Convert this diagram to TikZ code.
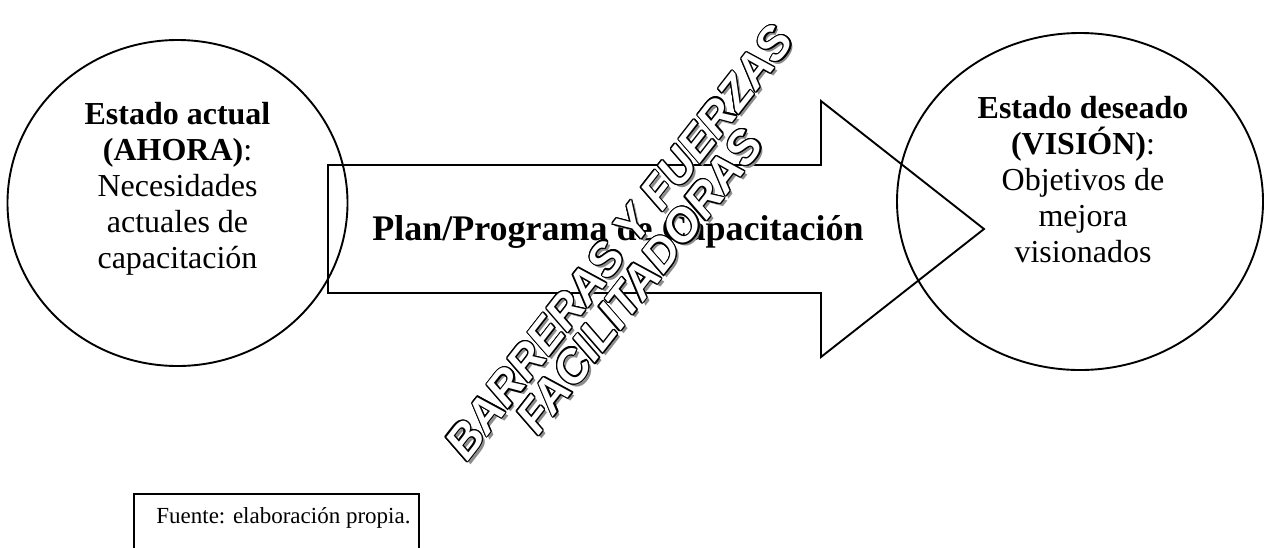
\documentclass[tikz,border=0pt]{standalone}
\usepackage{fontspec}
\setmainfont{Liberation Serif}
\newfontfamily\wafont{Liberation Sans}
\usetikzlibrary{calc,shapes.geometric}
\tikzset{
  stateshape/.style={ellipse, draw, inner sep=0pt},
  statetext/.style={align=center, anchor=base, inner sep=0pt, font=\fontsize{32}{36}\selectfont},
  planlabel/.style={anchor=base, inner sep=0pt, font=\fontsize{36}{40}\selectfont\bfseries},
  wa/.style={inner sep=0pt, rotate=52, font=\wafont\fontsize{46}{50}\selectfont\bfseries\itshape},
  sourcebox/.style={draw, anchor=north west, inner xsep=0pt, inner ysep=0pt, minimum width=285pt,
    text height=30pt, text depth=40pt, font=\fontsize{23}{26}\selectfont}
}
\newcommand\wordartline[3]{%
  \node[wa, text=black!45] at ($(#2)+(3,3)$) {#3};
  \foreach \ang in {0,22.5,...,337.5} {\node[wa, text=black] at ($(#2)+(\ang:1.2)$) {#3};}
  \node[wa, text=white] (#1) at (#2) {#3};
}
\begin{document}
\begin{tikzpicture}[x=1pt,y=-1pt, line width=1.9pt]
\useasboundingbox[fill=white] (0,0) rectangle (1265,547);
% arrow
\coordinate (a1) at (328,165);
\coordinate (a2) at (821,165);
\coordinate (a3) at (821,101);
\coordinate (tip) at (984,229);
\coordinate (a5) at (821,357);
\coordinate (a6) at (821,293);
\coordinate (a7) at (328,293);
\draw (a1) -- (a2) -- (a3) -- (tip) -- (a5) -- (a6) -- (a7) -- cycle;
% circles
\node (ahora) [stateshape, minimum width=340pt, minimum height=326pt] at (177.5,203) {};
\node (vision) [stateshape, minimum width=366pt, minimum height=337pt] at (1080,201.5) {};
\node (ahoratxt) [statetext] at (177.5,268) {\textbf{Estado actual}\\\textbf{(AHORA)}:\\Necesidades\\actuales de\\capacitación};
\node (visiontxt) [statetext] at (1083,262) {\textbf{Estado deseado}\\\textbf{(VISIÓN)}:\\Objetivos de\\mejora\\visionados};
\node (plan) [planlabel] at (618,240) {Plan/Programa de Capacitación};
% word art
\coordinate (w1) at (619,242);
\coordinate (w2) at (639.5,281);
\wordartline{barreras}{w1}{BARRERAS Y FUERZAS}
\wordartline{facilit}{w2}{FACILITADORAS}
% source
\node (fuente) [sourcebox] at (133,493) {\hspace*{22pt}Fuente: elaboración propia.\hspace*{8pt}};
\end{tikzpicture}
\end{document}
